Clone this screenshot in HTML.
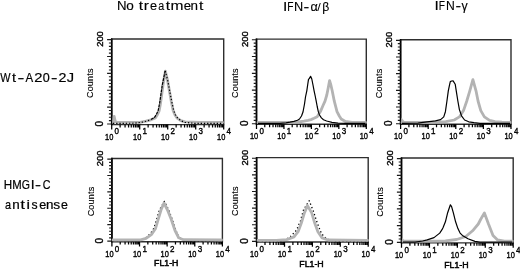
<!DOCTYPE html>
<html><head><meta charset="utf-8"><style>
html,body{margin:0;padding:0;background:#fff;width:520px;height:269px;overflow:hidden}
svg{display:block;will-change:transform}
text{font-family:"Liberation Sans", sans-serif;fill:#000}
.s{stroke:#000;stroke-width:0.38}
.s5{stroke:#000;stroke-width:0.5}
.s2{stroke:#000;stroke-width:0.12}
.s3{stroke:#000;stroke-width:0.2}
.s4{stroke:#000;stroke-width:0.12}
</style></head><body>
<svg width="520" height="269" viewBox="0 0 520 269">
<rect width="520" height="269" fill="#fff"/>
<text transform="translate(116.91 9.6) scale(1.104 1)" font-size="12" class="s4">N</text>
<text transform="translate(126.33 9.6) scale(1.130 1)" font-size="12" class="s4">o</text>
<text transform="translate(138.67 9.6) scale(1.300 1)" font-size="12" class="s4">t</text>
<text transform="translate(143.81 9.6) scale(1.300 1)" font-size="12" class="s4">r</text>
<text transform="translate(150.06 9.6) scale(1.066 1)" font-size="12" class="s4">e</text>
<text transform="translate(158.15 9.6) scale(0.892 1)" font-size="12" class="s4">a</text>
<text transform="translate(165.72 9.6) scale(1.300 1)" font-size="12" class="s4">t</text>
<text transform="translate(170.6 9.6) scale(1.300 1)" font-size="12" class="s4">m</text>
<text transform="translate(183.64 9.6) scale(1.101 1)" font-size="12" class="s4">e</text>
<text transform="translate(190.61 9.6) scale(1.118 1)" font-size="12" class="s4">n</text>
<text transform="translate(198.97 9.6) scale(1.300 1)" font-size="12" class="s4">t</text>
<text transform="translate(282.88 10.9) scale(1.300 1)" font-size="12" class="s4">I</text>
<text transform="translate(287.32 10.9) scale(0.850 1)" font-size="12" class="s4">F</text>
<text transform="translate(293.96 10.9) scale(1.059 1)" font-size="12" class="s4">N</text>
<text transform="translate(303.44 10.9) scale(1.434 1)" font-size="12" class="s4">-</text>
<text transform="translate(310.47 10.9) scale(1.051 1)" font-size="12" class="s4">&#945;</text>
<text transform="translate(322.35 10.9) scale(1.019 1)" font-size="12" class="s4">&#946;</text>
<text transform="translate(317.2 10.9) scale(1.15 1)" font-size="11">/</text>
<text transform="translate(434.43 10.4) scale(1.300 1)" font-size="12" class="s4">I</text>
<text transform="translate(438.87 10.4) scale(0.850 1)" font-size="12" class="s4">F</text>
<text transform="translate(446 10.4) scale(1.014 1)" font-size="12" class="s4">N</text>
<text transform="translate(455.45 10.4) scale(1.399 1)" font-size="12" class="s4">-</text>
<text transform="translate(461.46 10.4) scale(1.031 1)" font-size="12" class="s4">&#947;</text>
<text transform="translate(0.36 82.4) scale(0.850 1)" font-size="12.8" class="s3">W</text>
<text transform="translate(11.98 82.4) scale(1.132 1)" font-size="12.8" class="s3">t</text>
<text transform="translate(17.44 82.4) scale(1.600 1)" font-size="12.8" class="s3">-</text>
<text transform="translate(25.58 82.4) scale(0.895 1)" font-size="12.8" class="s3">A</text>
<text transform="translate(34.26 82.4) scale(1.149 1)" font-size="12.8" class="s3">2</text>
<text transform="translate(42.81 82.4) scale(0.981 1)" font-size="12.8" class="s3">0</text>
<text transform="translate(51.04 82.4) scale(1.504 1)" font-size="12.8" class="s3">-</text>
<text transform="translate(58.48 82.4) scale(1.115 1)" font-size="12.8" class="s3">2</text>
<text transform="translate(66.77 82.4) scale(1.143 1)" font-size="12.8" class="s3">J</text>
<text transform="translate(3.65 189.3) scale(0.938 1)" font-size="12.4" class="s3">H</text>
<text transform="translate(12.27 189.3) scale(0.916 1)" font-size="12.4" class="s3">M</text>
<text transform="translate(21.63 189.3) scale(0.850 1)" font-size="12.4" class="s3">G</text>
<text transform="translate(30.71 189.3) scale(1.124 1)" font-size="12.4" class="s3">I</text>
<text transform="translate(35.1 189.3) scale(1.453 1)" font-size="12.4" class="s3">-</text>
<text transform="translate(42.65 189.3) scale(0.866 1)" font-size="12.4" class="s3">C</text>
<text transform="translate(5.04 209.1) scale(0.908 1)" font-size="12" class="s3">a</text>
<text transform="translate(12.31 209.1) scale(1.118 1)" font-size="12" class="s3">n</text>
<text transform="translate(20.52 209.1) scale(1.300 1)" font-size="12" class="s3">t</text>
<text transform="translate(26.62 209.1) scale(1.300 1)" font-size="12" class="s3">i</text>
<text transform="translate(31.56 209.1) scale(1.013 1)" font-size="12" class="s3">s</text>
<text transform="translate(39.27 209.1) scale(1.048 1)" font-size="12" class="s3">e</text>
<text transform="translate(45.91 209.1) scale(1.118 1)" font-size="12" class="s3">n</text>
<text transform="translate(53.32 209.1) scale(1.147 1)" font-size="12" class="s3">s</text>
<text transform="translate(60.97 209.1) scale(1.030 1)" font-size="12" class="s3">e</text>
<path d="M111.7 39H223.7V124.6H111.7Z" fill="none" stroke="#2e2e2e" stroke-width="1.4"/>
<path d="M111.7 38.4V125.2" stroke="#000" stroke-width="1.6"/>
<path d="M107.1 124H111.7M108.9 120.62H111.7M108.9 117.25H111.7M108.9 113.87H111.7M108.9 110.5H111.7M107.1 107.12H111.7M108.9 103.74H111.7M108.9 100.37H111.7M108.9 96.99H111.7M108.9 93.62H111.7M107.1 90.24H111.7M108.9 86.86H111.7M108.9 83.49H111.7M108.9 80.11H111.7M108.9 76.74H111.7M107.1 73.36H111.7M108.9 69.98H111.7M108.9 66.61H111.7M108.9 63.23H111.7M108.9 59.86H111.7M107.1 56.48H111.7M108.9 53.1H111.7M108.9 49.73H111.7M108.9 46.35H111.7M108.9 42.98H111.7M107.1 39.6H111.7" stroke="#1a1a1a" stroke-width="1.15"/>
<path d="M111.7 124.6V129.4M120.13 124.6V127.5M125.06 124.6V127.5M128.56 124.6V127.5M131.27 124.6V127.5M133.49 124.6V127.5M135.36 124.6V127.5M136.99 124.6V127.5M138.42 124.6V127.5M139.7 124.6V129.4M148.13 124.6V127.5M153.06 124.6V127.5M156.56 124.6V127.5M159.27 124.6V127.5M161.49 124.6V127.5M163.36 124.6V127.5M164.99 124.6V127.5M166.42 124.6V127.5M167.7 124.6V129.4M176.13 124.6V127.5M181.06 124.6V127.5M184.56 124.6V127.5M187.27 124.6V127.5M189.49 124.6V127.5M191.36 124.6V127.5M192.99 124.6V127.5M194.42 124.6V127.5M195.7 124.6V129.4M204.13 124.6V127.5M209.06 124.6V127.5M212.56 124.6V127.5M215.27 124.6V127.5M217.49 124.6V127.5M219.36 124.6V127.5M220.99 124.6V127.5M222.42 124.6V127.5M223.7 124.6V129.4" stroke="#000" stroke-width="1.25"/>
<text transform="translate(103.1 39) rotate(-90)" font-size="9.4" class="s" text-anchor="middle">200</text>
<text transform="translate(103.1 123.6) rotate(-90)" font-size="10" class="s" text-anchor="middle">0</text>
<text transform="translate(93.4 83.3) rotate(-90)" font-size="9" class="s2" text-anchor="middle" textLength="29.5">Counts</text>
<text x="105.1" y="139.7" font-size="9.6" textLength="8.3" lengthAdjust="spacingAndGlyphs" class="s">10</text>
<text transform="translate(114.6 134.4) scale(0.85 1)" font-size="9.4" class="s">0</text>
<text x="133.1" y="139.7" font-size="9.6" textLength="8.3" lengthAdjust="spacingAndGlyphs" class="s">10</text>
<text transform="translate(142.6 134.4) scale(0.85 1)" font-size="9.4" class="s">1</text>
<text x="161.1" y="139.7" font-size="9.6" textLength="8.3" lengthAdjust="spacingAndGlyphs" class="s">10</text>
<text transform="translate(170.6 134.4) scale(0.85 1)" font-size="9.4" class="s">2</text>
<text x="189.1" y="139.7" font-size="9.6" textLength="8.3" lengthAdjust="spacingAndGlyphs" class="s">10</text>
<text transform="translate(198.6 134.4) scale(0.85 1)" font-size="9.4" class="s">3</text>
<text x="217.1" y="139.7" font-size="9.6" textLength="8.3" lengthAdjust="spacingAndGlyphs" class="s">10</text>
<text transform="translate(226.6 134.4) scale(0.85 1)" font-size="9.4" class="s">4</text>
<path d="M256.5 39.1H366.3V124.3H256.5Z" fill="none" stroke="#2e2e2e" stroke-width="1.4"/>
<path d="M256.5 38.5V124.9" stroke="#000" stroke-width="1.6"/>
<path d="M251.9 123.7H256.5M253.7 120.34H256.5M253.7 116.98H256.5M253.7 113.62H256.5M253.7 110.26H256.5M251.9 106.9H256.5M253.7 103.54H256.5M253.7 100.18H256.5M253.7 96.82H256.5M253.7 93.46H256.5M251.9 90.1H256.5M253.7 86.74H256.5M253.7 83.38H256.5M253.7 80.02H256.5M253.7 76.66H256.5M251.9 73.3H256.5M253.7 69.94H256.5M253.7 66.58H256.5M253.7 63.22H256.5M253.7 59.86H256.5M251.9 56.5H256.5M253.7 53.14H256.5M253.7 49.78H256.5M253.7 46.42H256.5M253.7 43.06H256.5M251.9 39.7H256.5" stroke="#1a1a1a" stroke-width="1.15"/>
<path d="M256.5 124.3V129.1M264.76 124.3V127.2M269.6 124.3V127.2M273.03 124.3V127.2M275.69 124.3V127.2M277.86 124.3V127.2M279.7 124.3V127.2M281.29 124.3V127.2M282.69 124.3V127.2M283.95 124.3V129.1M292.21 124.3V127.2M297.05 124.3V127.2M300.48 124.3V127.2M303.14 124.3V127.2M305.31 124.3V127.2M307.15 124.3V127.2M308.74 124.3V127.2M310.14 124.3V127.2M311.4 124.3V129.1M319.66 124.3V127.2M324.5 124.3V127.2M327.93 124.3V127.2M330.59 124.3V127.2M332.76 124.3V127.2M334.6 124.3V127.2M336.19 124.3V127.2M337.59 124.3V127.2M338.85 124.3V129.1M347.11 124.3V127.2M351.95 124.3V127.2M355.38 124.3V127.2M358.04 124.3V127.2M360.21 124.3V127.2M362.05 124.3V127.2M363.64 124.3V127.2M365.04 124.3V127.2M366.3 124.3V129.1" stroke="#000" stroke-width="1.25"/>
<text transform="translate(247.9 39.1) rotate(-90)" font-size="9.4" class="s" text-anchor="middle">200</text>
<text transform="translate(247.9 123.3) rotate(-90)" font-size="10" class="s" text-anchor="middle">0</text>
<text transform="translate(238.2 83.2) rotate(-90)" font-size="9" class="s2" text-anchor="middle" textLength="29.5">Counts</text>
<text x="249.9" y="139.4" font-size="9.6" textLength="8.3" lengthAdjust="spacingAndGlyphs" class="s">10</text>
<text transform="translate(259.4 134.1) scale(0.85 1)" font-size="9.4" class="s">0</text>
<text x="277.35" y="139.4" font-size="9.6" textLength="8.3" lengthAdjust="spacingAndGlyphs" class="s">10</text>
<text transform="translate(286.85 134.1) scale(0.85 1)" font-size="9.4" class="s">1</text>
<text x="304.8" y="139.4" font-size="9.6" textLength="8.3" lengthAdjust="spacingAndGlyphs" class="s">10</text>
<text transform="translate(314.3 134.1) scale(0.85 1)" font-size="9.4" class="s">2</text>
<text x="332.25" y="139.4" font-size="9.6" textLength="8.3" lengthAdjust="spacingAndGlyphs" class="s">10</text>
<text transform="translate(341.75 134.1) scale(0.85 1)" font-size="9.4" class="s">3</text>
<text x="359.7" y="139.4" font-size="9.6" textLength="8.3" lengthAdjust="spacingAndGlyphs" class="s">10</text>
<text transform="translate(369.2 134.1) scale(0.85 1)" font-size="9.4" class="s">4</text>
<path d="M400.6 39.7H511V124.3H400.6Z" fill="none" stroke="#2e2e2e" stroke-width="1.4"/>
<path d="M400.6 39.1V124.9" stroke="#000" stroke-width="1.6"/>
<path d="M396 123.7H400.6M397.8 120.36H400.6M397.8 117.03H400.6M397.8 113.69H400.6M397.8 110.36H400.6M396 107.02H400.6M397.8 103.68H400.6M397.8 100.35H400.6M397.8 97.01H400.6M397.8 93.68H400.6M396 90.34H400.6M397.8 87H400.6M397.8 83.67H400.6M397.8 80.33H400.6M397.8 77H400.6M396 73.66H400.6M397.8 70.32H400.6M397.8 66.99H400.6M397.8 63.65H400.6M397.8 60.32H400.6M396 56.98H400.6M397.8 53.64H400.6M397.8 50.31H400.6M397.8 46.97H400.6M397.8 43.64H400.6M396 40.3H400.6" stroke="#1a1a1a" stroke-width="1.15"/>
<path d="M400.6 124.3V129.1M408.91 124.3V127.2M413.77 124.3V127.2M417.22 124.3V127.2M419.89 124.3V127.2M422.08 124.3V127.2M423.92 124.3V127.2M425.53 124.3V127.2M426.94 124.3V127.2M428.2 124.3V129.1M436.51 124.3V127.2M441.37 124.3V127.2M444.82 124.3V127.2M447.49 124.3V127.2M449.68 124.3V127.2M451.52 124.3V127.2M453.13 124.3V127.2M454.54 124.3V127.2M455.8 124.3V129.1M464.11 124.3V127.2M468.97 124.3V127.2M472.42 124.3V127.2M475.09 124.3V127.2M477.28 124.3V127.2M479.12 124.3V127.2M480.73 124.3V127.2M482.14 124.3V127.2M483.4 124.3V129.1M491.71 124.3V127.2M496.57 124.3V127.2M500.02 124.3V127.2M502.69 124.3V127.2M504.88 124.3V127.2M506.72 124.3V127.2M508.33 124.3V127.2M509.74 124.3V127.2M511 124.3V129.1" stroke="#000" stroke-width="1.25"/>
<text transform="translate(392 39.7) rotate(-90)" font-size="9.4" class="s" text-anchor="middle">200</text>
<text transform="translate(392 123.3) rotate(-90)" font-size="10" class="s" text-anchor="middle">0</text>
<text transform="translate(382.3 83.5) rotate(-90)" font-size="9" class="s2" text-anchor="middle" textLength="29.5">Counts</text>
<text x="394" y="139.4" font-size="9.6" textLength="8.3" lengthAdjust="spacingAndGlyphs" class="s">10</text>
<text transform="translate(403.5 134.1) scale(0.85 1)" font-size="9.4" class="s">0</text>
<text x="421.6" y="139.4" font-size="9.6" textLength="8.3" lengthAdjust="spacingAndGlyphs" class="s">10</text>
<text transform="translate(431.1 134.1) scale(0.85 1)" font-size="9.4" class="s">1</text>
<text x="449.2" y="139.4" font-size="9.6" textLength="8.3" lengthAdjust="spacingAndGlyphs" class="s">10</text>
<text transform="translate(458.7 134.1) scale(0.85 1)" font-size="9.4" class="s">2</text>
<text x="476.8" y="139.4" font-size="9.6" textLength="8.3" lengthAdjust="spacingAndGlyphs" class="s">10</text>
<text transform="translate(486.3 134.1) scale(0.85 1)" font-size="9.4" class="s">3</text>
<text x="504.4" y="139.4" font-size="9.6" textLength="8.3" lengthAdjust="spacingAndGlyphs" class="s">10</text>
<text transform="translate(513.9 134.1) scale(0.85 1)" font-size="9.4" class="s">4</text>
<path d="M111.9 158.45H222.4V241.7H111.9Z" fill="none" stroke="#2e2e2e" stroke-width="1.4"/>
<path d="M111.9 157.85V242.3" stroke="#000" stroke-width="1.6"/>
<path d="M107.3 241.1H111.9M109.1 237.82H111.9M109.1 234.54H111.9M109.1 231.25H111.9M109.1 227.97H111.9M107.3 224.69H111.9M109.1 221.41H111.9M109.1 218.13H111.9M109.1 214.84H111.9M109.1 211.56H111.9M107.3 208.28H111.9M109.1 205H111.9M109.1 201.72H111.9M109.1 198.43H111.9M109.1 195.15H111.9M107.3 191.87H111.9M109.1 188.59H111.9M109.1 185.31H111.9M109.1 182.02H111.9M109.1 178.74H111.9M107.3 175.46H111.9M109.1 172.18H111.9M109.1 168.9H111.9M109.1 165.61H111.9M109.1 162.33H111.9M107.3 159.05H111.9" stroke="#1a1a1a" stroke-width="1.15"/>
<path d="M111.9 241.7V246.5M120.22 241.7V244.6M125.08 241.7V244.6M128.53 241.7V244.6M131.21 241.7V244.6M133.4 241.7V244.6M135.25 241.7V244.6M136.85 241.7V244.6M138.26 241.7V244.6M139.53 241.7V246.5M147.84 241.7V244.6M152.71 241.7V244.6M156.16 241.7V244.6M158.83 241.7V244.6M161.02 241.7V244.6M162.87 241.7V244.6M164.47 241.7V244.6M165.89 241.7V244.6M167.15 241.7V246.5M175.47 241.7V244.6M180.33 241.7V244.6M183.78 241.7V244.6M186.46 241.7V244.6M188.65 241.7V244.6M190.5 241.7V244.6M192.1 241.7V244.6M193.51 241.7V244.6M194.78 241.7V246.5M203.09 241.7V244.6M207.96 241.7V244.6M211.41 241.7V244.6M214.08 241.7V244.6M216.27 241.7V244.6M218.12 241.7V244.6M219.72 241.7V244.6M221.14 241.7V244.6M222.4 241.7V246.5" stroke="#000" stroke-width="1.25"/>
<text transform="translate(103.3 158.45) rotate(-90)" font-size="9.4" class="s" text-anchor="middle">200</text>
<text transform="translate(103.3 240.7) rotate(-90)" font-size="10" class="s" text-anchor="middle">0</text>
<text transform="translate(93.6 201.57) rotate(-90)" font-size="9" class="s2" text-anchor="middle" textLength="29.5">Counts</text>
<text x="105.3" y="256.8" font-size="9.6" textLength="8.3" lengthAdjust="spacingAndGlyphs" class="s">10</text>
<text transform="translate(114.8 251.5) scale(0.85 1)" font-size="9.4" class="s">0</text>
<text x="132.93" y="256.8" font-size="9.6" textLength="8.3" lengthAdjust="spacingAndGlyphs" class="s">10</text>
<text transform="translate(142.43 251.5) scale(0.85 1)" font-size="9.4" class="s">1</text>
<text x="160.55" y="256.8" font-size="9.6" textLength="8.3" lengthAdjust="spacingAndGlyphs" class="s">10</text>
<text transform="translate(170.05 251.5) scale(0.85 1)" font-size="9.4" class="s">2</text>
<text x="188.18" y="256.8" font-size="9.6" textLength="8.3" lengthAdjust="spacingAndGlyphs" class="s">10</text>
<text transform="translate(197.68 251.5) scale(0.85 1)" font-size="9.4" class="s">3</text>
<text x="215.8" y="256.8" font-size="9.6" textLength="8.3" lengthAdjust="spacingAndGlyphs" class="s">10</text>
<text transform="translate(225.3 251.5) scale(0.85 1)" font-size="9.4" class="s">4</text>
<text x="166.25" y="266.3" font-size="8.9" text-anchor="middle" textLength="24.4" lengthAdjust="spacingAndGlyphs" class="s5">FL1-H</text>
<path d="M256.6 157.6H368.2V242H256.6Z" fill="none" stroke="#2e2e2e" stroke-width="1.4"/>
<path d="M256.6 157V242.6" stroke="#000" stroke-width="1.6"/>
<path d="M252 241.4H256.6M253.8 238.07H256.6M253.8 234.74H256.6M253.8 231.42H256.6M253.8 228.09H256.6M252 224.76H256.6M253.8 221.43H256.6M253.8 218.1H256.6M253.8 214.78H256.6M253.8 211.45H256.6M252 208.12H256.6M253.8 204.79H256.6M253.8 201.46H256.6M253.8 198.14H256.6M253.8 194.81H256.6M252 191.48H256.6M253.8 188.15H256.6M253.8 184.82H256.6M253.8 181.5H256.6M253.8 178.17H256.6M252 174.84H256.6M253.8 171.51H256.6M253.8 168.18H256.6M253.8 164.86H256.6M253.8 161.53H256.6M252 158.2H256.6" stroke="#1a1a1a" stroke-width="1.15"/>
<path d="M256.6 242V246.8M265 242V244.9M269.91 242V244.9M273.4 242V244.9M276.1 242V244.9M278.31 242V244.9M280.18 242V244.9M281.8 242V244.9M283.22 242V244.9M284.5 242V246.8M292.9 242V244.9M297.81 242V244.9M301.3 242V244.9M304 242V244.9M306.21 242V244.9M308.08 242V244.9M309.7 242V244.9M311.12 242V244.9M312.4 242V246.8M320.8 242V244.9M325.71 242V244.9M329.2 242V244.9M331.9 242V244.9M334.11 242V244.9M335.98 242V244.9M337.6 242V244.9M339.02 242V244.9M340.3 242V246.8M348.7 242V244.9M353.61 242V244.9M357.1 242V244.9M359.8 242V244.9M362.01 242V244.9M363.88 242V244.9M365.5 242V244.9M366.92 242V244.9M368.2 242V246.8" stroke="#000" stroke-width="1.25"/>
<text transform="translate(248 157.6) rotate(-90)" font-size="9.4" class="s" text-anchor="middle">200</text>
<text transform="translate(248 241) rotate(-90)" font-size="10" class="s" text-anchor="middle">0</text>
<text transform="translate(238.3 201.3) rotate(-90)" font-size="9" class="s2" text-anchor="middle" textLength="29.5">Counts</text>
<text x="250" y="257.1" font-size="9.6" textLength="8.3" lengthAdjust="spacingAndGlyphs" class="s">10</text>
<text transform="translate(259.5 251.8) scale(0.85 1)" font-size="9.4" class="s">0</text>
<text x="277.9" y="257.1" font-size="9.6" textLength="8.3" lengthAdjust="spacingAndGlyphs" class="s">10</text>
<text transform="translate(287.4 251.8) scale(0.85 1)" font-size="9.4" class="s">1</text>
<text x="305.8" y="257.1" font-size="9.6" textLength="8.3" lengthAdjust="spacingAndGlyphs" class="s">10</text>
<text transform="translate(315.3 251.8) scale(0.85 1)" font-size="9.4" class="s">2</text>
<text x="333.7" y="257.1" font-size="9.6" textLength="8.3" lengthAdjust="spacingAndGlyphs" class="s">10</text>
<text transform="translate(343.2 251.8) scale(0.85 1)" font-size="9.4" class="s">3</text>
<text x="361.6" y="257.1" font-size="9.6" textLength="8.3" lengthAdjust="spacingAndGlyphs" class="s">10</text>
<text transform="translate(371.1 251.8) scale(0.85 1)" font-size="9.4" class="s">4</text>
<text x="311.5" y="266.6" font-size="8.9" text-anchor="middle" textLength="24.4" lengthAdjust="spacingAndGlyphs" class="s5">FL1-H</text>
<path d="M401.5 158H513.2V242.9H401.5Z" fill="none" stroke="#2e2e2e" stroke-width="1.4"/>
<path d="M401.5 157.4V243.5" stroke="#000" stroke-width="1.6"/>
<path d="M396.9 242.3H401.5M398.7 238.95H401.5M398.7 235.6H401.5M398.7 232.26H401.5M398.7 228.91H401.5M396.9 225.56H401.5M398.7 222.21H401.5M398.7 218.86H401.5M398.7 215.52H401.5M398.7 212.17H401.5M396.9 208.82H401.5M398.7 205.47H401.5M398.7 202.12H401.5M398.7 198.78H401.5M398.7 195.43H401.5M396.9 192.08H401.5M398.7 188.73H401.5M398.7 185.38H401.5M398.7 182.04H401.5M398.7 178.69H401.5M396.9 175.34H401.5M398.7 171.99H401.5M398.7 168.64H401.5M398.7 165.3H401.5M398.7 161.95H401.5M396.9 158.6H401.5" stroke="#1a1a1a" stroke-width="1.15"/>
<path d="M401.5 242.9V247.7M409.91 242.9V245.8M414.82 242.9V245.8M418.31 242.9V245.8M421.02 242.9V245.8M423.23 242.9V245.8M425.1 242.9V245.8M426.72 242.9V245.8M428.15 242.9V245.8M429.43 242.9V247.7M437.83 242.9V245.8M442.75 242.9V245.8M446.24 242.9V245.8M448.94 242.9V245.8M451.15 242.9V245.8M453.02 242.9V245.8M454.64 242.9V245.8M456.07 242.9V245.8M457.35 242.9V247.7M465.76 242.9V245.8M470.67 242.9V245.8M474.16 242.9V245.8M476.87 242.9V245.8M479.08 242.9V245.8M480.95 242.9V245.8M482.57 242.9V245.8M484 242.9V245.8M485.28 242.9V247.7M493.68 242.9V245.8M498.6 242.9V245.8M502.09 242.9V245.8M504.79 242.9V245.8M507 242.9V245.8M508.87 242.9V245.8M510.49 242.9V245.8M511.92 242.9V245.8M513.2 242.9V247.7" stroke="#000" stroke-width="1.25"/>
<text transform="translate(392.9 158) rotate(-90)" font-size="9.4" class="s" text-anchor="middle">200</text>
<text transform="translate(392.9 241.9) rotate(-90)" font-size="10" class="s" text-anchor="middle">0</text>
<text transform="translate(383.2 201.95) rotate(-90)" font-size="9" class="s2" text-anchor="middle" textLength="29.5">Counts</text>
<text x="394.9" y="258" font-size="9.6" textLength="8.3" lengthAdjust="spacingAndGlyphs" class="s">10</text>
<text transform="translate(404.4 252.7) scale(0.85 1)" font-size="9.4" class="s">0</text>
<text x="422.82" y="258" font-size="9.6" textLength="8.3" lengthAdjust="spacingAndGlyphs" class="s">10</text>
<text transform="translate(432.32 252.7) scale(0.85 1)" font-size="9.4" class="s">1</text>
<text x="450.75" y="258" font-size="9.6" textLength="8.3" lengthAdjust="spacingAndGlyphs" class="s">10</text>
<text transform="translate(460.25 252.7) scale(0.85 1)" font-size="9.4" class="s">2</text>
<text x="478.68" y="258" font-size="9.6" textLength="8.3" lengthAdjust="spacingAndGlyphs" class="s">10</text>
<text transform="translate(488.18 252.7) scale(0.85 1)" font-size="9.4" class="s">3</text>
<text x="506.6" y="258" font-size="9.6" textLength="8.3" lengthAdjust="spacingAndGlyphs" class="s">10</text>
<text transform="translate(516.1 252.7) scale(0.85 1)" font-size="9.4" class="s">4</text>
<text x="456.45" y="267.5" font-size="8.9" text-anchor="middle" textLength="24.4" lengthAdjust="spacingAndGlyphs" class="s5">FL1-H</text>
<path d="M401.3 117.5L405 121.8L401.3 122.4Z" fill="#bbb"/>
<path d="M402.3 237.8L405.5 241.2L402.3 241.6Z" fill="#c4c4c4"/>
<path d="M113.5 122.3L114.2 116.5L115.3 121.8L117 122.4L140 122.3L146 121.2L151 119.8L155.3 118L157.5 114.5L159.2 110.6L160.4 104L161.5 96L163 85L165.4 71.2L167.5 80L169.6 92L171.4 102L173.2 110.6L175 115L177.2 118.2L180.8 120.7L185 121.9L200 122.3L222.5 122.3" fill="none" stroke="#b3b3b3" stroke-width="2.8" stroke-linejoin="round" stroke-linecap="round"/>
<path d="M113 123.4L135 123.2L142 122.2L147 121L151 119.6" fill="none" stroke="#000" stroke-width="1.2" stroke-dasharray="1.3 1.9" stroke-linejoin="round"/>
<path d="M151 119.6L154.4 117.6L156.5 114.3L158.2 110.4L159.5 104L160.7 96L162.3 85L165.2 70.8" fill="none" stroke="#000" stroke-width="1.2" stroke-dasharray="3 0.8" stroke-linejoin="round"/>
<path d="M165.2 70.8L167.6 80L169.9 92L171.8 102L173.7 110.6L175.5 115L177.7 118.2L181.2 120.9L185 122.4L195 123.4L222.5 123.4" fill="none" stroke="#000" stroke-width="1.2" stroke-dasharray="1.3 1.9" stroke-linejoin="round"/>
<path d="M258 122.4L292 122.4L298.5 122L304 121.1L308 120.3L311 119.6L314 118.3L317.2 116.8L320.4 111.6L322.8 106L325 101.2L326.8 95L328.2 88L329.6 80.6L331 85.5L332.2 90.8L334.3 101.2L337 111.6L339.3 116L341.2 119L345.4 121.5L352 122.3L365.5 122.4" fill="none" stroke="#b3b3b3" stroke-width="2.8" stroke-linejoin="round" stroke-linecap="round"/>
<path d="M258 123.4L280 123.3L286 122.8L290 122.2L294 121.4L297.5 120.2L299.5 119L301.5 116L303 112L304.5 104L305.5 97L306.8 90.8L307.8 84L308.5 79.3L309.3 78.6L310.6 76.3L311.8 79L313 85L314.1 90.8L315.2 96L316.2 101.2L317.2 106.5L318.3 111.6L319.5 115L321.4 117.9L323.5 119.8L326.6 121L332 122.3L338 123.1L345 123.4L365.5 123.4" fill="none" stroke="#000" stroke-width="1.2" stroke-linejoin="round"/>
<path d="M402 122.3L433.8 122.2L445.8 121.7L454.2 120L459.4 116.9L463.5 110.6L466.7 101.25L469.8 90.8L472.9 79.6L476 90.8L478.1 101.25L480.8 110.6L484.4 116.9L489.6 120.4L495 121.7L502 122.1L510 122.3" fill="none" stroke="#b3b3b3" stroke-width="2.8" stroke-linejoin="round" stroke-linecap="round"/>
<path d="M402 123.4L418 123.2L423 122.4L427 121.8L431.25 121.3L435.4 120.8L440.6 119.6L443.75 116.9L445.4 111.7L446.9 101.25L448.3 90.8L449.6 84.6L450.3 81.6L451.6 81L453.1 80.9L455.2 84.2L456.25 90.8L457.9 101.25L459.4 109.6L461.5 115.8L464.6 120L468.75 121.8L474 122.6L480 123.3L510 123.4" fill="none" stroke="#000" stroke-width="1.2" stroke-linejoin="round"/>
<path d="M113 241L135 240.8L140.6 239.9L145.5 238L150.3 233.8L153.9 228.2L156.7 219.2L159.6 209.6L164.4 201.4L168.6 209.8L172.2 219.2L175.8 230.3L179.5 237.8L184 240L190 241L221.5 241" fill="none" stroke="#000" stroke-width="1.3" stroke-dasharray="1.3 2.4" stroke-linejoin="round"/>
<path d="M113 240L140.6 239.8L146.1 238.3L151.7 234.3L155.4 228.8L158.2 219.3L161 210L164 203L167.5 210L171.2 219.3L175 230.5L178.7 237.8L183.3 239.7L221.5 240" fill="none" stroke="#b3b3b3" stroke-width="2.8" stroke-linejoin="round" stroke-linecap="round"/>
<path d="M258 241.3L280 241.1L285 240.2L290.3 236.7L296.4 230.4L300.4 221L303.6 209.6L309.2 200.8L313.2 210.8L317.4 223.3L321.5 233.75L326.6 239L332.5 240.6L338 241.3L367.5 241.3" fill="none" stroke="#000" stroke-width="1.3" stroke-dasharray="1.3 2.4" stroke-linejoin="round"/>
<path d="M258 240.3L276.25 240.3L286.7 239.6L294 236.9L298.1 231.7L301.25 223.3L304.4 212.9L307.5 205.6L311.7 212.9L314.8 223.3L317.9 231.7L322.1 237.9L328.3 240L367.5 240.3" fill="none" stroke="#b3b3b3" stroke-width="2.8" stroke-linejoin="round" stroke-linecap="round"/>
<path d="M403 241.1L430 241.1L445.4 240.9L456.7 239.5L465.8 236.5L472.6 230.8L478.3 224L480.6 219.5L484.4 212.9L488.5 224L493 235.4L497.6 239.9L504.4 241.1L512.3 241.1" fill="none" stroke="#b3b3b3" stroke-width="2.8" stroke-linejoin="round" stroke-linecap="round"/>
<path d="M403 242.2L415 242.1L422.7 241L427.2 239.9L434 237.65L439.7 233.1L442 229.7L443.1 227.4L445.4 221.8L447.65 212.7L450.4 204.8L451.6 206.6L453.3 212.7L455.6 221.8L457.9 228.6L460.1 233.1L462.4 235.4L468 238.8L474.9 241.4L480 242.2L512.3 242.2" fill="none" stroke="#000" stroke-width="1.2" stroke-linejoin="round"/>
</svg>
</body></html>
